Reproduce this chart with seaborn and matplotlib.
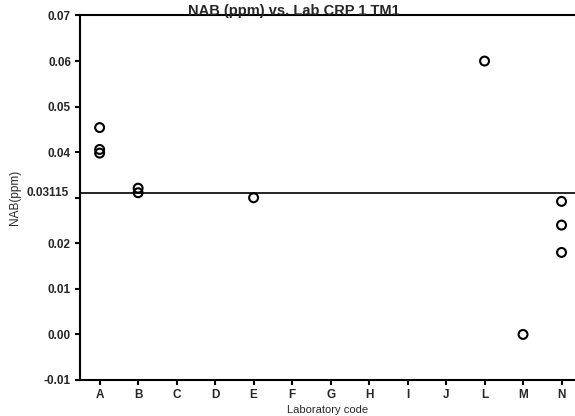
import matplotlib
matplotlib.use("Agg")
import matplotlib.pyplot as plt
import matplotlib.transforms as mtransforms
import seaborn as sns
import pandas as pd

# Laboratory codes shown on the x axis (all of them, including labs without results)
lab_order = ["A", "B", "C", "D", "E", "F", "G", "H", "I", "J", "L", "M", "N"]

# Individual NAB results (ppm) per laboratory
lab_codes = ["A", "A", "A", "B", "B", "E", "L", "M", "N", "N", "N"]
nab_ppm = [0.0454, 0.0406, 0.0398, 0.0321, 0.0311, 0.0300, 0.0600, 0.0000, 0.0292, 0.0240, 0.0180]

# Assigned value drawn as a reference line
assigned_value = 0.03115

y_ticks = [-0.01, 0.00, 0.01, 0.02, 0.03, 0.04, 0.05, 0.06, 0.07]
y_tick_labels = ["-0.01", "0.00", "0.01", "0.02", "", "0.04", "0.05", "0.06", "0.07"]

df = pd.DataFrame({"lab": lab_codes, "nab": nab_ppm})

sns.set_style("white")
plt.rcParams["font.family"] = ["Liberation Sans", "DejaVu Sans"]

fig = plt.figure(figsize=(5.75, 4.16), dpi=100)
ax = fig.add_axes([80 / 575, 1 - 380 / 416, 1 - 80 / 575, (380 - 15.5) / 416])

sns.stripplot(data=df, x="lab", y="nab", order=lab_order, jitter=False,
              marker="o", s=6.4, edgecolor="black",
              linewidth=1.5, color="white", ax=ax, zorder=3)
# hollow markers
for coll in ax.collections:
    coll.set_facecolor("none")
    coll.set_edgecolor("black")

ax.axhline(assigned_value, color="black", lw=1.2, zorder=2)

ax.set_xlim(-0.51, 12.35)
ax.set_ylim(-0.01, 0.07)
ax.set_yticks(y_ticks)
ax.set_yticklabels(y_tick_labels)

for side in ["left", "bottom", "top"]:
    ax.spines[side].set_visible(True)
    ax.spines[side].set_linewidth(1.5)
    ax.spines[side].set_color("black")
ax.spines["right"].set_visible(False)

ax.tick_params(axis="both", which="both", direction="out", length=3.5, width=1.5,
               color="black", labelsize=8.5, pad=3, bottom=True, left=True)
for lbl in ax.get_xticklabels() + ax.get_yticklabels():
    lbl.set_fontweight("bold")

# label for the assigned value next to its line
trans = mtransforms.blended_transform_factory(ax.transAxes, ax.transData)
ax.text(-0.022, assigned_value, "0.03115", transform=trans, ha="right", va="center",
        fontsize=8.5, fontweight="bold")

ax.set_xlabel("Laboratory code", fontsize=8, labelpad=3)
ax.set_ylabel("NAB(ppm)", fontsize=8.5)
ax.yaxis.set_label_coords(-0.12, 0.5)

fig.text(294 / 575, 1 - 15 / 416, "NAB (ppm) vs. Lab CRP 1 TM1", ha="center",
         va="baseline", fontsize=10.5, fontweight="bold")

fig.savefig("out.png", dpi=100, facecolor="white")
